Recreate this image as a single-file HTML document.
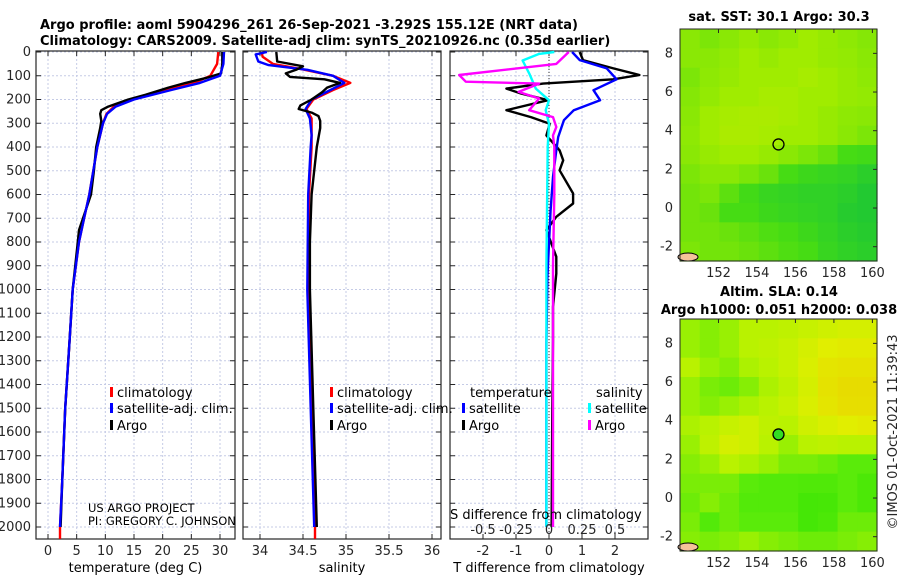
<!DOCTYPE html>
<html><head><meta charset="utf-8"><style>
body{margin:0;background:#fff;}
svg{display:block;font-family:"DejaVu Sans","Liberation Sans",sans-serif;}
.tk{font-size:13px;fill:#262626;}
.lg{font-size:13px;fill:#000;}
.tt{font-size:13px;font-weight:bold;fill:#000;}
</style></head><body>
<svg id="fig" width="900" height="580" viewBox="0 0 900 580">
<text class="tt" x="40" y="29">Argo profile: aoml 5904296_261 26-Sep-2021 -3.292S 155.12E (NRT data)</text>
<text class="tt" x="40" y="45">Climatology: CARS2009. Satellite-adj clim: synTS_20210926.nc (0.35d earlier)</text>
<g id="g"></g>
</svg>
<script>
// ---- data ----
const depthTicks=[0,100,200,300,400,500,600,700,800,900,1000,1100,1200,1300,1400,1500,1600,1700,1800,1900,2000];
const tempTicks=[0,5,10,15,20,25,30];
const salTicks=[34,34.5,35,35.5,36];
const salTickLabels=["34","34.5","35","35.5","36"];
const tdiffTicks=[-2,-1,0,1,2];
const sdiffTicks=[-0.5,-0.25,0,0.25,0.5];
const sdiffTickLabels=["-0.5","-0.25","0","0.25","0.5"];

const argoTempDepth=[0,50,90,110,130,150,180,200,230,245,260,290,320,400,500,600,700,750,800,1000,1200,1500,1800,2000];
const argoTemp=[30.4,30.4,30.2,27.5,24,21,17,14,10.5,9.3,9.1,9.3,9.1,8.4,8.0,7.5,6.1,5.4,5.2,4.3,3.8,3.0,2.5,2.2];
const climTempDepth=[0,50,100,130,160,200,230,260,300,400,500,600,700,800,1000,1200,1500,1800,2000,2050];
const climTemp=[29.7,29.5,28.3,25.5,20.5,14.5,11.5,10.2,9.6,8.6,7.9,7.2,6.3,5.4,4.3,3.8,3.0,2.5,2.1,2.1];
const satTempDepth=[0,50,100,130,160,200,230,260,300,400,500,600,700,800,1000,1200,1500,1800,2000];
const satTemp=[30.7,30.6,30.0,26.5,21.5,15,11.8,10.3,9.6,8.6,7.9,7.2,6.3,5.4,4.3,3.8,3.0,2.5,2.1];

const argoSalDepth=[0,40,60,75,90,105,115,130,150,170,200,225,240,255,270,290,320,400,600,800,1000,1500,2000];
const argoSal=[34.19,34.2,34.5,34.42,34.3,34.35,34.75,34.93,34.78,34.72,34.6,34.47,34.45,34.6,34.68,34.7,34.7,34.66,34.6,34.58,34.58,34.62,34.66];
const climSalDepth=[0,20,50,70,100,130,160,200,240,280,350,400,600,1000,1500,2000,2050];
const climSal=[34.02,34.03,34.15,34.45,34.85,35.05,34.85,34.62,34.54,34.6,34.6,34.6,34.57,34.56,34.6,34.64,34.64];
const satSalDepth=[0,10,40,55,75,100,130,160,200,240,280,350,400,600,1000,1500,2000];
const satSal=[34.08,33.95,33.98,34.1,34.55,34.85,34.98,34.82,34.6,34.53,34.58,34.6,34.59,34.56,34.55,34.59,34.63];

const argoTdDepth=[0,34,69,97,115,133,154,175,203,245,274,302,351,414,456,498,596,638,694,750,862,933,1073,1213,1500,2000];
const argoTd=[0.93,1.03,1.95,2.74,1.95,-0.18,-1.29,-0.84,-0.03,-1.29,-0.55,0.02,-0.08,0.32,0.43,0.32,0.73,0.73,0.22,-0.08,0.22,0.22,0.12,0.12,0.1,0.08];
const satTdDepth=[0,34,69,115,161,203,245,287,358,414,526,667,807,947,1228,2000];
const satTd=[0.7,0.93,1.75,2.05,1.35,1.55,0.75,0.45,0.28,0.22,0.12,0.05,0,-0.05,-0.08,-0.08];
const argoSdDepth=[0,50,97,125,133,168,196,245,274,316,351,400,600,900,2000];
const argoSd=[0.15,0.055,-0.68,-0.63,-0.075,-0.23,-0.075,-0.15,0.03,0.055,0.03,0.04,0.04,0.03,0.03];
const satSdDepth=[0,8,36,90,154,203,245,302,400,900,2000];
const satSd=[0.04,-0.075,-0.2,-0.15,-0.1,0,-0.025,0,-0.01,-0.02,-0.02];

const mapLatTicks=[-2,0,2,4,6,8];
const mapLonTicks=[152,154,156,158,160];
const sstGrid=[
[.45,.42,.45,.48,.45,.47,.5,.48,.46,.44],
[.45,.45,.47,.5,.48,.5,.5,.48,.47,.45],
[.42,.46,.48,.5,.5,.5,.52,.5,.48,.46],
[.44,.47,.5,.5,.52,.52,.5,.5,.48,.47],
[.45,.5,.52,.53,.53,.52,.5,.48,.46,.45],
[.46,.5,.53,.53,.52,.5,.5,.48,.45,.42],
[.45,.48,.5,.5,.48,.45,.42,.38,.3,.28],
[.42,.45,.45,.42,.38,.3,.25,.22,.2,.15],
[.4,.42,.35,.28,.22,.2,.18,.18,.15,.1],
[.4,.38,.3,.3,.25,.22,.2,.18,.12,.1],
[.4,.4,.38,.35,.32,.3,.25,.2,.15,.12],
[.42,.4,.4,.38,.35,.32,.3,.22,.18,.15]];
const slaGrid=[
[.45,.42,.45,.5,.5,.52,.55,.58,.6,.6],
[.45,.42,.45,.5,.52,.55,.6,.65,.68,.68],
[.5,.45,.42,.48,.5,.55,.62,.72,.75,.75],
[.45,.4,.38,.42,.48,.52,.6,.75,.8,.8],
[.45,.42,.45,.48,.5,.55,.62,.72,.78,.78],
[.48,.5,.55,.58,.52,.5,.58,.62,.65,.68],
[.45,.52,.6,.58,.5,.45,.5,.52,.5,.5],
[.42,.45,.5,.48,.45,.4,.4,.38,.35,.35],
[.4,.4,.4,.35,.3,.3,.28,.28,.35,.25],
[.38,.42,.38,.3,.3,.3,.2,.22,.35,.25],
[.4,.3,.38,.35,.35,.35,.2,.25,.38,.38],
[.42,.4,.42,.45,.42,.4,.38,.38,.4,.42]];
const floatLon=155.12, floatLat=3.29;

// ---- drawing ----
const NS="http://www.w3.org/2000/svg";
const G=document.getElementById('g');
function el(tag,attrs,parent){const e=document.createElementNS(NS,tag);for(const k in attrs)e.setAttribute(k,attrs[k]);(parent||G).appendChild(e);return e;}
const TOP=51,BOT=539;
const yD=d=>52+d*0.2375;
function lin(d0,d1,p0,p1){return v=>p0+(v-d0)*(p1-p0)/(d1-d0);}
const panels=[
 {x0:36,x1:235,sx:lin(0,30,48,220),ticks:tempTicks,labels:tempTicks.map(String),title:"temperature (deg C)",name:"temperature-panel"},
 {x0:243,x1:441,sx:lin(34,36,260,432),ticks:salTicks,labels:salTickLabels,title:"salinity",name:"salinity-panel"},
 {x0:450,x1:648,sx:lin(0,1,549,582),ticks:tdiffTicks,labels:tdiffTicks.map(String),title:"T difference from climatology",name:"difference-panel"}];
const sSd=lin(0,0.25,549,582);

panels.forEach((p,pi)=>{
 const g=el('g',{});
 
 
 p.ticks.forEach(t=>{const l=el('line',{x1:p.sx(t),x2:p.sx(t),y1:TOP,y2:BOT,stroke:'#c5cbe6','stroke-dasharray':'2,2','stroke-width':1},g);
   });
 depthTicks.forEach(d=>{const l=el('line',{x1:p.x0,x2:p.x1,y1:yD(d),y2:yD(d),stroke:'#c5cbe6','stroke-dasharray':'2,2','stroke-width':1},g);
   
   el('line',{x1:p.x0,x2:p.x0+5,y1:yD(d),y2:yD(d),stroke:'#262626'},g);
   el('line',{x1:p.x1-5,x2:p.x1,y1:yD(d),y2:yD(d),stroke:'#262626'},g);});
 p.ticks.forEach((t,i)=>{el('line',{x1:p.sx(t),x2:p.sx(t),y1:BOT,y2:BOT-5,stroke:'#262626'},g);el('line',{x1:p.sx(t),x2:p.sx(t),y1:TOP,y2:TOP+5,stroke:'#262626'},g);
   const tx=el('text',{x:p.sx(t),y:555,'text-anchor':'middle',class:'tk'},g);tx.textContent=p.labels[i];
   });
 const tt=el('text',{x:(p.x0+p.x1)/2,y:572,'text-anchor':'middle',class:'lg'},g);tt.textContent=p.title;
 
 const b=el('rect',{x:p.x0,y:TOP,width:p.x1-p.x0,height:BOT-TOP,fill:'none',stroke:'#262626','stroke-width':1.2},g);
 
});
depthTicks.forEach(d=>{const t=el('text',{x:31,y:yD(d)+4,'text-anchor':'end',class:'tk'});t.textContent=d;
 });
const z=el('line',{x1:549,x2:549,y1:TOP,y2:BOT,stroke:'#333','stroke-dasharray':'1,2'});


function series(depths,vals,sx,color,name,w){
 const pts=depths.map((d,i)=>sx(vals[i]).toFixed(1)+','+yD(d).toFixed(1)).join(' ');
 const l=el('polyline',{points:pts,fill:'none',stroke:color,'stroke-width':w||2.4,'stroke-linejoin':'round'});
 
}
const P=panels;
series(climTempDepth,climTemp,P[0].sx,'#ff0000','temp-climatology-line');
series(argoTempDepth,argoTemp,P[0].sx,'#000','temp-argo-line');
series(satTempDepth,satTemp,P[0].sx,'#0000ff','temp-satellite-line');
series(climSalDepth,climSal,P[1].sx,'#ff0000','sal-climatology-line');
series(satSalDepth,satSal,P[1].sx,'#0000ff','sal-satellite-line');
series(argoSalDepth,argoSal,P[1].sx,'#000','sal-argo-line');
series(argoTdDepth,argoTd,P[2].sx,'#000','tdiff-argo-line');
series(satTdDepth,satTd,P[2].sx,'#0000ff','tdiff-satellite-line');
series(satSdDepth,satSd,sSd,'#00ffff','sdiff-satellite-line');
series(argoSdDepth,argoSd,sSd,'#ff00ff','sdiff-argo-line');

const sl=el('text',{x:450,y:519,class:'lg'});sl.textContent='S difference from climatology';

sdiffTicks.forEach((s,i)=>{const t=el('text',{x:sSd(s),y:534,'text-anchor':'middle',class:'tk'});t.textContent=sdiffTickLabels[i];
 });

function legend(x,y,color,label){
 const g=el('g',{});
 el('rect',{x:x,y:y-10,width:3,height:10,fill:color},g);
 const t=el('text',{x:x+7,y:y,class:'lg'},g);t.textContent=label;}
legend(110,397,'#ff0000','climatology');legend(110,413,'#0000ff','satellite-adj. clim.');legend(110,430,'#000','Argo');
legend(330,397,'#ff0000','climatology');legend(330,413,'#0000ff','satellite-adj. clim.');legend(330,430,'#000','Argo');
let t1=el('text',{x:470,y:397,class:'lg'});t1.textContent='temperature';
let t2=el('text',{x:596,y:397,class:'lg'});t2.textContent='salinity';
legend(462,413,'#0000ff','satellite');legend(462,430,'#000','Argo');
legend(588,413,'#00ffff','satellite');legend(588,430,'#ff00ff','Argo');
const c1=el('text',{x:88,y:512,style:'font-size:11.5px'});c1.textContent='US ARGO PROJECT';
const c2=el('text',{x:88,y:525,style:'font-size:11.5px'});c2.textContent='PI: GREGORY C. JOHNSON';

function cmap(v,pal){let i=0;while(i<pal.length-2&&v>pal[i+1][0])i++;const a=pal[i],b=pal[i+1];const f=Math.max(0,Math.min(1,(v-a[0])/(b[0]-a[0])));
 const c=[0,1,2].map(k=>Math.round(a[1][k]+(b[1][k]-a[1][k])*f));return 'rgb('+c.join(',')+')';}
const palSST=[[0,[16,192,64]],[0.3,[70,220,20]],[0.5,[160,236,0]],[0.7,[232,232,0]],[1,[240,176,0]]];
const palSLA=[[0,[40,225,0]],[0.35,[90,235,10]],[0.5,[185,242,0]],[0.65,[225,238,0]],[1,[240,195,0]]];
function drawMap(x0,y0,x1,y1,grid,pal,fill,name,titles){
 const g=el('g',{});
 const lon=lin(150,160.24,x0,x1), lat=lin(9.26,-2.74,y0,y1);
 const R=grid.length,C=grid[0].length,cw=(x1-x0)/C,ch=(y1-y0)/R;
 grid.forEach((row,r)=>row.forEach((v,c)=>{const q=el('rect',{x:x0+c*cw,y:y0+r*ch,width:cw+0.6,height:ch+0.6,fill:cmap(v,pal)},g);
   }));
 el('ellipse',{cx:x0+8,cy:y1-4,rx:10,ry:4,fill:'#f4c29a',stroke:'#000','stroke-width':1},g);
 const m=el('circle',{cx:lon(floatLon),cy:lat(floatLat),r:5.5,fill:fill,stroke:'#000','stroke-width':1.3},g);
 
 el('rect',{x:x0,y:y0,width:x1-x0,height:y1-y0,fill:'none',stroke:'#262626'},g);
 mapLatTicks.forEach(t=>{const tx=el('text',{x:x0-7,y:lat(t)+4,'text-anchor':'end',class:'tk'},g);tx.textContent=t;
   
   el('line',{x1:x1-4,x2:x1,y1:lat(t),y2:lat(t),stroke:'#262626'},g);});
 mapLonTicks.forEach(t=>{const tx=el('text',{x:lon(t),y:y1+16,'text-anchor':'middle',class:'tk'},g);tx.textContent=t;
   
   el('line',{x1:lon(t),x2:lon(t),y1:y0,y2:y0+4,stroke:'#262626'},g);});
 titles.forEach((s,i)=>{const tx=el('text',{x:s[1],y:s[2],'text-anchor':'middle',class:'tt'},g);tx.textContent=s[0];
   });
}
drawMap(680,29,877,261,sstGrid,palSST,'none','sst-map',[["sat. SST: 30.1 Argo: 30.3",779,21]]);
drawMap(680,319,877,551,slaGrid,palSLA,'#33dd22','sla-map',[["Altim. SLA: 0.14",779,296],["Argo h1000: 0.051 h2000: 0.038",779,314]]);
const cp=el('text',{x:0,y:0,class:'tk',transform:'translate(897,432) rotate(-90)','text-anchor':'middle'});
cp.textContent='©IMOS 01-Oct-2021 11:39:43';
</script>
</body></html>
